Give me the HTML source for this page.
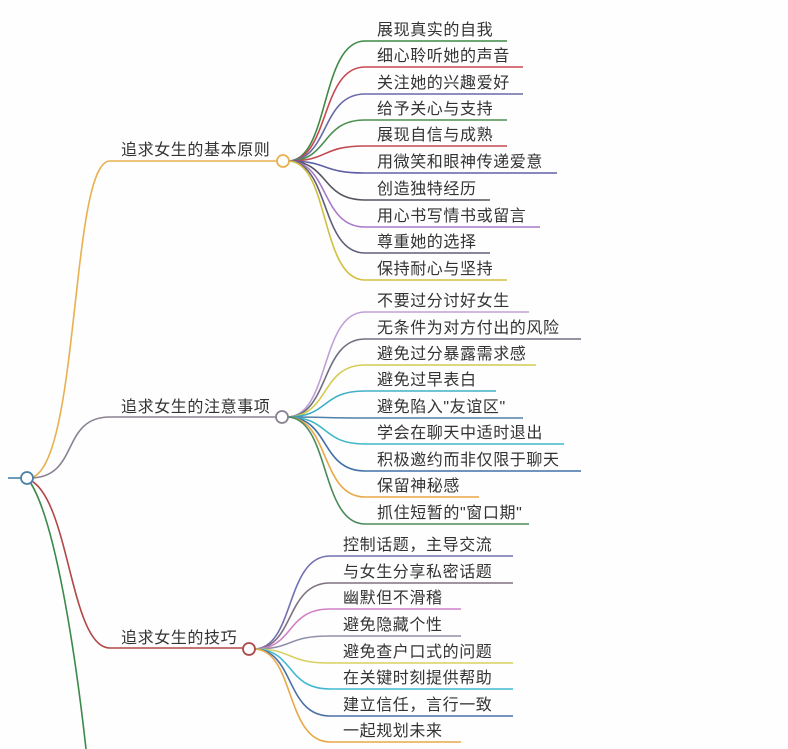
<!DOCTYPE html>
<html><head><meta charset="utf-8"><style>
html,body{margin:0;padding:0;background:#fff;}
svg{display:block}
text{font-family:"Liberation Sans","Noto Sans CJK SC",sans-serif;font-size:16px;fill:#333;letter-spacing:0.6px}
path{fill:none;stroke-width:1.6}
</style></head><body>
<svg width="788" height="749" viewBox="0 0 788 749" xmlns="http://www.w3.org/2000/svg">
<rect width="788" height="749" fill="#fefefe"/>
<!-- root branches -->
<path d="M30,478 C80,470 70,161 110,161 L277,161" stroke="#e8b050"/>
<path d="M30,478 C80,478 60,417 110,417 L276,417" stroke="#8a8292"/>
<path d="M30,480 C70,500 70,648 110,648 L243,648" stroke="#b04848"/>
<path d="M30,482 C55,520 75,650 86,749" stroke="#3a8a4a"/>
<path d="M8,478 L21,478" stroke="#4a80a8" stroke-width="2"/>
<circle cx="27" cy="478" r="6" fill="#fff" stroke="#4a80a8" stroke-width="1.8"/>
<text x="121" y="155">追求女生的基本原则</text>
<text x="121" y="412">追求女生的注意事项</text>
<text x="121" y="643">追求女生的技巧</text>

<!-- branch 1 leaves -->
<g>
<path d="M288,161 C330,161 320,41 365,41 L507,41" stroke="#3f8a45"/>
<path d="M288,161 C330,161 320,67 365,67 L523,67" stroke="#c84850"/>
<path d="M288,161 C330,161 320,94 365,94 L523,94" stroke="#6a6aa8"/>
<path d="M288,161 C330,161 320,120 365,120 L507,120" stroke="#4a9050"/>
<path d="M288,161 C330,161 320,146 365,146 L507,146" stroke="#c04850"/>
<path d="M288,161 C330,161 320,173 365,173 L557,173" stroke="#6060a8"/>
<path d="M288,161 C330,161 320,200 365,200 L490,200" stroke="#555560"/>
<path d="M288,161 C330,161 320,227 365,227 L540,227" stroke="#a878c8"/>
<path d="M288,161 C330,161 320,253 365,253 L490,253" stroke="#606078"/>
<path d="M288,161 C330,161 320,280 365,280 L507,280" stroke="#d0c040"/>
</g>
<circle cx="283" cy="161" r="6" fill="#fff" stroke="#e8b050" stroke-width="1.8"/>
<text x="377" y="35">展现真实的自我</text>
<text x="377" y="61">细心聆听她的声音</text>
<text x="377" y="88">关注她的兴趣爱好</text>
<text x="377" y="114">给予关心与支持</text>
<text x="377" y="140">展现自信与成熟</text>
<text x="377" y="167">用微笑和眼神传递爱意</text>
<text x="377" y="194">创造独特经历</text>
<text x="377" y="221">用心书写情书或留言</text>
<text x="377" y="247">尊重她的选择</text>
<text x="377" y="274">保持耐心与坚持</text>

<!-- branch 2 leaves -->
<g>
<path d="M287,417 C330,417 320,312 365,312 L529,312" stroke="#c0a0d8"/>
<path d="M287,417 C330,417 320,339 365,339 L581,339" stroke="#707080"/>
<path d="M287,417 C330,417 320,365 365,365 L536,365" stroke="#d4cc50"/>
<path d="M287,417 C330,417 320,391 365,391 L496,391" stroke="#40b0c8" stroke-width="2"/>
<path d="M287,417 C330,417 320,418 365,418 L523,418" stroke="#5080a8"/>
<path d="M287,417 C330,417 320,444 365,444 L564,444" stroke="#40b8c8" stroke-width="2"/>
<path d="M287,417 C330,417 320,471 365,471 L581,471" stroke="#4070a8"/>
<path d="M287,417 C330,417 320,497 365,497 L479,497" stroke="#e8a848"/>
<path d="M287,417 C330,417 320,524 365,524 L529,524" stroke="#4a8a5a"/>
</g>
<circle cx="282" cy="417" r="6" fill="#fff" stroke="#8a8292" stroke-width="1.8"/>
<text x="377" y="306">不要过分讨好女生</text>
<text x="377" y="333">无条件为对方付出的风险</text>
<text x="377" y="359">避免过分暴露需求感</text>
<text x="377" y="385">避免过早表白</text>
<text x="377" y="412">避免陷入"友谊区"</text>
<text x="377" y="438">学会在聊天中适时退出</text>
<text x="377" y="465">积极邀约而非仅限于聊天</text>
<text x="377" y="491">保留神秘感</text>
<text x="377" y="518">抓住短暂的"窗口期"</text>

<!-- branch 3 leaves -->
<g>
<path d="M254,649 C295,649 285,556 330,556 L513,556" stroke="#7070b0"/>
<path d="M254,649 C295,649 285,583 330,583 L513,583" stroke="#807080"/>
<path d="M254,649 C295,649 285,609 330,609 L461,609" stroke="#d080c8"/>
<path d="M254,649 C295,649 285,636 330,636 L461,636" stroke="#9090a8"/>
<path d="M254,649 C295,649 285,663 330,663 L513,663" stroke="#d8d060"/>
<path d="M254,649 C295,649 285,689 330,689 L513,689" stroke="#40b8d0" stroke-width="2"/>
<path d="M254,649 C295,649 285,716 330,716 L513,716" stroke="#4a70a8"/>
<path d="M254,649 C295,649 285,742 330,742 L461,742" stroke="#e8a848"/>
</g>
<circle cx="249" cy="649" r="6" fill="#fff" stroke="#b04848" stroke-width="1.8"/>
<text x="343" y="550">控制话题，主导交流</text>
<text x="343" y="577">与女生分享私密话题</text>
<text x="343" y="603">幽默但不滑稽</text>
<text x="343" y="630">避免隐藏个性</text>
<text x="343" y="657">避免查户口式的问题</text>
<text x="343" y="683">在关键时刻提供帮助</text>
<text x="343" y="710">建立信任，言行一致</text>
<text x="343" y="736">一起规划未来</text>
</svg>
</body></html>
